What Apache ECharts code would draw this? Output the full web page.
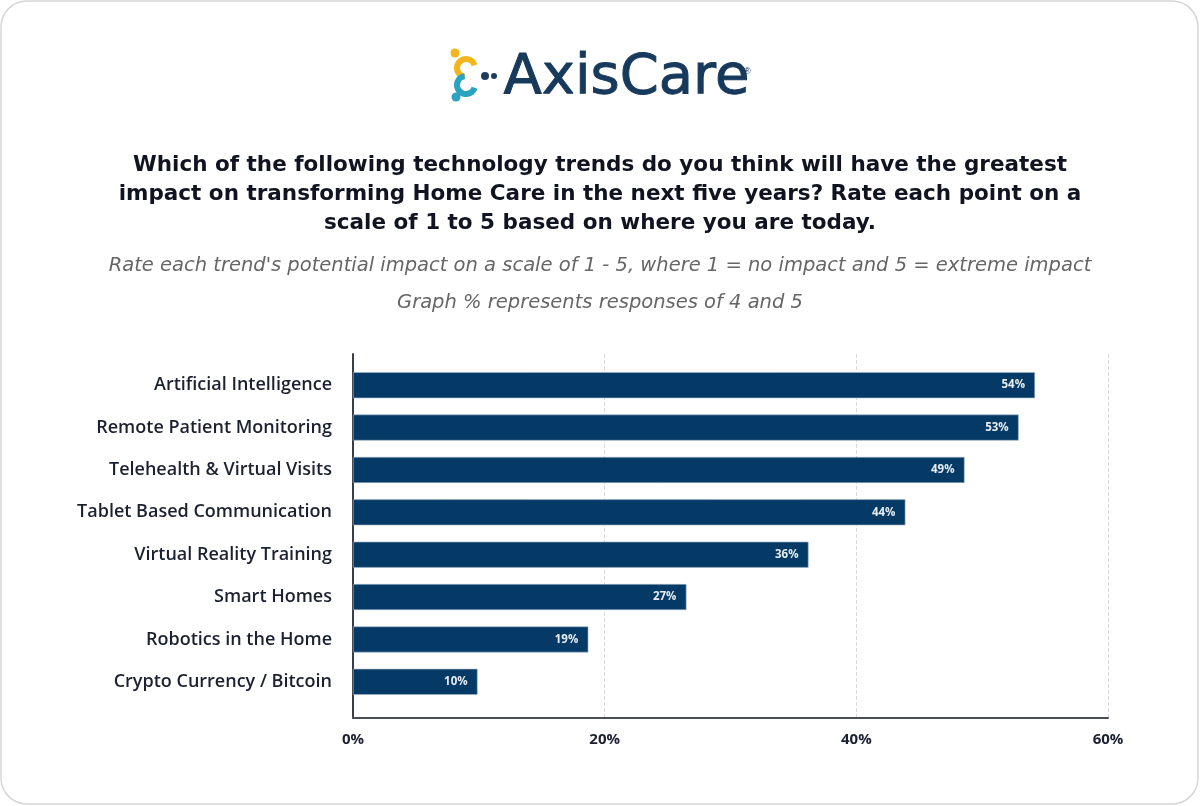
<!DOCTYPE html>
<html>
<head>
<meta charset="utf-8">
<script src="https://cdn.jsdelivr.net/npm/echarts@6/dist/echarts.min.js"></script>
<style>
html,body{margin:0;padding:0;background:#fff;}
#main{width:1200px;height:806px;}
</style>
</head>
<body>
<div id="main"></div>
<script>
const categories = [
  'Artificial Intelligence',
  'Remote Patient Monitoring',
  'Telehealth & Virtual Visits',
  'Tablet Based Communication',
  'Virtual Reality Training',
  'Smart Homes',
  'Robotics in the Home',
  'Crypto Currency / Bitcoin'
];
const values = [54.2, 52.9, 48.6, 43.9, 36.2, 26.5, 18.7, 9.9];
const xTicks = [0, 20, 40, 60];

const titleLines = [
  'Which of the following technology trends do you think will have the greatest',
  'impact on transforming Home Care in the next five years? Rate each point on a',
  'scale of 1 to 5 based on where you are today.'
];
const subLines = [
  "Rate each trend's potential impact on a scale of 1 - 5, where 1 = no impact and 5 = extreme impact",
  'Graph % represents responses of 4 and 5'
];

const chart = echarts.init(document.getElementById('main'), null, {renderer: 'canvas'});
const navy = '#063a66';
const textDark = '#1b2130';
const titleFont = 'Century Gothic, "DejaVu Sans", sans-serif';
const labelFont = '"Open Sans", sans-serif';

const option = {
  backgroundColor: '#fff',
  animation: false,
  title: [
    {text: titleLines.join('\n'), left: 'center', top: 146,
     textStyle: {fontFamily: titleFont, fontWeight: 'bold', fontSize: 21.5, lineHeight: 29, color: '#0f1420'}},
    {text: subLines[0], left: 'center', top: 251,
     textStyle: {fontFamily: titleFont, fontStyle: 'italic', fontWeight: 'normal', fontSize: 19.5, color: '#666'}},
    {text: subLines[1], left: 'center', top: 288,
     textStyle: {fontFamily: titleFont, fontStyle: 'italic', fontWeight: 'normal', fontSize: 19.5, color: '#666'}}
  ],
  grid: [
    {left: 353, right: 92, top: 354, bottom: 88},
    {left: 353, right: 92, top: 364, bottom: 103}
  ],
  xAxis: [
    {gridIndex: 0, type: 'value', min: 0, max: 60, interval: 20,
     axisLine: {show: true, lineStyle: {color: '#4a4f57', width: 2}},
     axisTick: {show: false},
     splitLine: {show: true, lineStyle: {type: 'dashed', color: '#d9d9d9', width: 1}},
     axisLabel: {formatter: '{value}%', fontFamily: labelFont, fontWeight: 'bold', fontSize: 15, color: textDark, margin: 14}},
    {gridIndex: 1, type: 'value', min: 0, max: 60, show: false}
  ],
  yAxis: [
    {gridIndex: 0, type: 'value', min: 0, max: 1,
     axisLine: {show: true, lineStyle: {color: '#3a3f47', width: 2}},
     axisTick: {show: false}, axisLabel: {show: false}, splitLine: {show: false}},
    {gridIndex: 1, type: 'category', data: categories, inverse: true,
     axisLine: {show: false}, axisTick: {show: false}, splitLine: {show: false},
     axisLabel: {fontFamily: labelFont, fontWeight: 600, fontSize: 18, color: textDark, margin: 21}}
  ],
  series: [{
    type: 'bar', xAxisIndex: 1, yAxisIndex: 1,
    data: values, barWidth: 26,
    itemStyle: {color: navy, borderColor: '#9fb3c8', borderWidth: 0.6},
    label: {show: true, position: 'insideRight', distance: 10,
      formatter: p => Math.round(p.value) + '%',
      fontFamily: labelFont, fontWeight: 'bold', fontSize: 11.5, color: '#e6ecf2'}
  }],
  graphic: [
    {type: 'rect', shape: {x: 1, y: 1, width: 1197, height: 803, r: 26}, silent: true,
     style: {fill: 'none', stroke: '#d6d6d6', lineWidth: 1.5}, z: -10},
    // logo icon
    {type: 'circle', shape: {cx: 455, cy: 53, r: 4.5}, style: {fill: '#f2b51c'}},
    {type: 'arc', shape: {cx: 466, cy: 68, r: 9, startAngle: Math.PI * 0.55, endAngle: Math.PI * 1.9}, style: {stroke: '#f2b51c', lineWidth: 6, fill: 'none'}},
    {type: 'arc', shape: {cx: 466, cy: 85, r: 9, startAngle: Math.PI * 0.1, endAngle: Math.PI * 1.45}, style: {stroke: '#2aa3c2', lineWidth: 6, fill: 'none'}},
    {type: 'circle', shape: {cx: 456, cy: 97, r: 4.5}, style: {fill: '#2aa3c2'}},
    {type: 'circle', shape: {cx: 485, cy: 76, r: 4}, style: {fill: '#1d3c5e'}},
    {type: 'circle', shape: {cx: 494, cy: 76, r: 3}, style: {fill: '#1d3c5e'}},
    {type: 'text', left: 503, top: 50, style: {text: 'AxisCare', fontFamily: titleFont, fontSize: 56, fontWeight: 500, fill: '#17395c', stroke: '#17395c', lineWidth: 1}},
    {type: 'text', left: 744, top: 67, style: {text: '®', fontSize: 9, fill: '#17395c'}}
  ]
};
chart.setOption(option);
</script>
</body>
</html>
